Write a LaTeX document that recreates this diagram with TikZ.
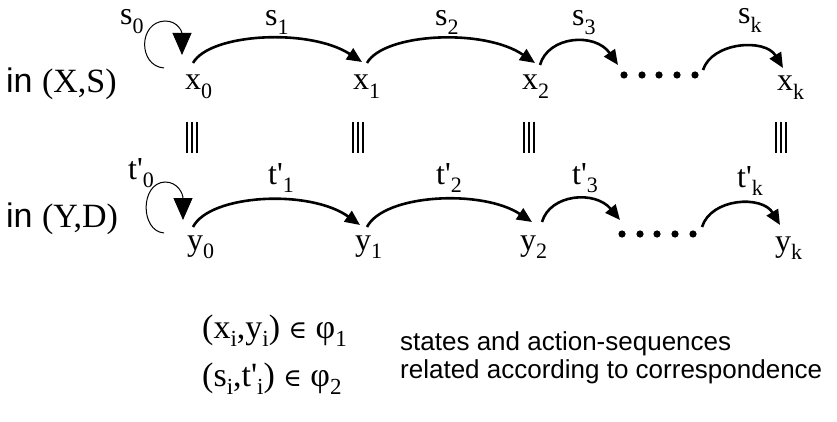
\documentclass[tikz,border=0pt]{standalone}
\usepackage{fontspec}
\setmainfont{Liberation Serif}
\newfontfamily\ars{Liberation Sans}
\newfontfamily\tms{Liberation Serif}[Ligatures=TeXOff]
\newfontfamily\dvs{DejaVu Serif}
\usetikzlibrary{arrows.meta}
\newcommand\lblfont{\tms\fontsize{32}{38}\selectfont}
\newcommand\relfont{\tms\fontsize{34}{40}\selectfont}
\newcommand\sbs[1]{\raisebox{-0.28em}{\fontsize{22}{24}\selectfont #1}}
\newcommand\rsbs[1]{\raisebox{-0.26em}{\fontsize{23}{25}\selectfont #1}}
\begin{document}
\begin{tikzpicture}[x=1pt,y=1pt,
  lab/.style={inner sep=0pt, anchor=base west, font=\lblfont},
  rel/.style={inner sep=0pt, anchor=base west, font=\relfont},
  arcarrow/.style={line width=2.6pt, -{Triangle[length=15pt,width=13pt]}},
  looparrow/.style={line width=1pt, -{Triangle[length=22pt,width=19pt]}},
  eqbar/.style={line width=1.3pt},
  dotmark/.style={fill=black},
  desc/.style={inner sep=0pt, anchor=base west, font=\ars\fontsize{26}{30}\selectfont},
  side/.style={inner sep=0pt, anchor=base west, font=\ars\fontsize{34}{40}\selectfont}]
\useasboundingbox (0,0) rectangle (837,-422);

% row labels
\node[side] (inXS) at (6,-93) {in {\tms(X,S)}};
\node[side] (inYD) at (6,-227) {in {\tms(Y,D)}};

% state nodes
\node[lab] (x0) at (185,-90) {x\sbs{0}};
\node[lab] (x1) at (353,-90) {x\sbs{1}};
\node[lab] (x2) at (522,-90) {x\sbs{2}};
\node[lab] (xk) at (777,-91) {x\sbs{k}};
\node[lab] (y0) at (187,-250) {y\sbs{0}};
\node[lab] (y1) at (355,-250) {y\sbs{1}};
\node[lab] (y2) at (520,-250) {y\sbs{2}};
\node[lab] (yk) at (775,-251) {y\sbs{k}};

% action labels
\node[lab] (s0) at (120,-25) {s\sbs{0}};
\node[lab] (s1) at (265,-26) {s\sbs{1}};
\node[lab] (s2) at (435,-26) {s\sbs{2}};
\node[lab] (s3) at (572,-26) {s\sbs{3}};
\node[lab] (sk) at (738,-24) {s\sbs{k}};
\node[lab] (t0) at (128,-179) {t'\sbs{0}};
\node[lab] (t1) at (268,-184) {t'\sbs{1}};
\node[lab] (t2) at (436,-184) {t'\sbs{2}};
\node[lab] (t3) at (572,-184) {t'\sbs{3}};
\node[lab] (tk) at (737,-187) {t'\sbs{k}};

% arrow end points
\coordinate (x0o) at (193,-63);
\coordinate (x1i) at (362,-62);
\coordinate (x1o) at (367,-63);
\coordinate (x2i) at (535,-63);
\coordinate (x2o) at (540,-65);
\coordinate (dxi) at (618,-65);
\coordinate (dxo) at (703,-70);
\coordinate (xki) at (783,-68);
\coordinate (y0o) at (193,-227);
\coordinate (y1i) at (360,-225);
\coordinate (y1o) at (367,-227);
\coordinate (y2i) at (532,-222);
\coordinate (y2o) at (542,-222);
\coordinate (dyi) at (620,-220);
\coordinate (dyo) at (702,-227);
\coordinate (yki) at (780,-225);
\coordinate (l0s) at (164,-68);
\coordinate (l0e) at (182,-55);
\coordinate (l1s) at (164,-233);
\coordinate (l1e) at (183,-220);

% arcs top row
\draw[arcarrow] (x0o) .. controls (210,-33) and (310,-28) .. (x1i);
\draw[arcarrow] (x1o) .. controls (384,-33) and (484,-28) .. (x2i);
\draw[arcarrow] (x2o) .. controls (548,-36) and (595,-32) .. (dxi);
\draw[arcarrow] (dxo) .. controls (712,-42) and (765,-38) .. (xki);
% arcs bottom row
\draw[arcarrow] (y0o) .. controls (210,-194) and (310,-189) .. (y1i);
\draw[arcarrow] (y1o) .. controls (384,-194) and (482,-189) .. (y2i);
\draw[arcarrow] (y2o) .. controls (550,-194) and (595,-190) .. (dyi);
\draw[arcarrow] (dyo) .. controls (711,-198) and (762,-195) .. (yki);

% self loops
\draw[looparrow] (l0s) .. controls (138,-66) and (138,-22) .. (165,-21) .. controls (178,-21) and (182,-32) .. (l0e);
\draw[looparrow] (l1s) .. controls (140,-231) and (140,-183) .. (165,-182) .. controls (178,-182) and (183,-194) .. (l1e);

% dots
\foreach \xx in {624,642,659,677,695} \fill[dotmark] (\xx,-75) circle (3.6);
\foreach \xx in {622,640,657,675,693} \fill[dotmark] (\xx,-234) circle (3.6);

% equality bars
\foreach \xx in {187,192,197,353,358,363,524,529,534,776,781,786}
  \draw[eqbar] (\xx,-122) -- (\xx,-153);

% relations
\node[rel] (rel1) at (202,-338) {(x\rsbs{i},y\rsbs{i}) {\dvs\fontsize{25}{28}\selectfont ∈} φ\rsbs{1}};
\node[rel] (rel2) at (202,-386) {(s\rsbs{i},t'\rsbs{i}) {\dvs\fontsize{25}{28}\selectfont ∈} φ\rsbs{2}};
\node[desc] (d1) at (400,-350) {states and action-sequences};
\node[desc] (d2) at (400,-378) {related according to correspondence};
\end{tikzpicture}
\end{document}
